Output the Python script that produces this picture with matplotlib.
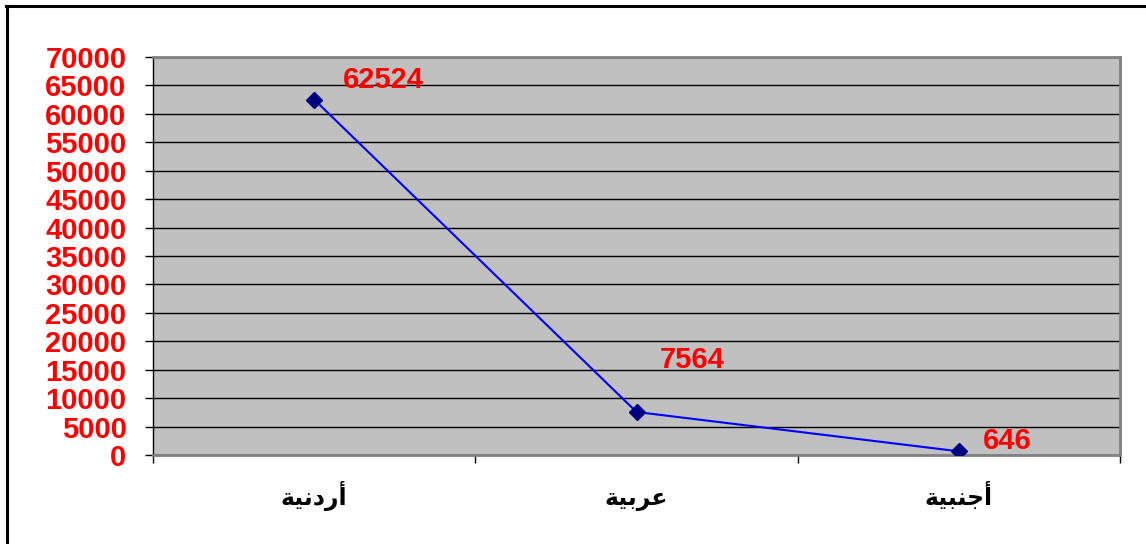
import matplotlib
matplotlib.use("Agg")
import matplotlib.pyplot as plt
from matplotlib.lines import Line2D

# data
categories = ["أردنية", "عربية", "أجنبية"]
values = [62524, 7564, 646]
y_ticks = list(range(0, 70001, 5000))

# label offsets (points) for the value labels
label_offsets = [(20.9, 8.6), (16.6, 31.7), (17.3, 1.4)]

# matplotlib has no Arabic shaping, so map letters to presentation forms
# (isolated, final, initial, medial)
FORMS = {
    "أ": "\ufe83\ufe84\ufe83\ufe84",
    "ر": "\ufead\ufeae\ufead\ufeae",
    "د": "\ufea9\ufeaa\ufea9\ufeaa",
    "ة": "\ufe93\ufe94\ufe93\ufe94",
    "ن": "\ufee5\ufee6\ufee7\ufee8",
    "ي": "\ufef1\ufef2\ufef3\ufef4",
    "ع": "\ufec9\ufeca\ufecb\ufecc",
    "ب": "\ufe8f\ufe90\ufe91\ufe92",
    "ج": "\ufe9d\ufe9e\ufe9f\ufea0",
}
RIGHT_ONLY = set("أردة")


def shape(word):
    out = []
    for i, ch in enumerate(word):
        joins_prev = i > 0 and word[i - 1] not in RIGHT_ONLY
        joins_next = i < len(word) - 1 and ch not in RIGHT_ONLY
        iso, fin, ini, med = FORMS[ch]
        if joins_prev and joins_next:
            out.append(med)
        elif joins_prev:
            out.append(fin)
        elif joins_next:
            out.append(ini)
        else:
            out.append(iso)
    return "".join(reversed(out))


fig = plt.figure(figsize=(11.46, 5.44), dpi=100)
ax = fig.add_axes([153 / 1146, 1 - 455 / 544, (1120 - 153) / 1146, (455 - 57) / 544])
ax.set_facecolor("#c0c0c0")

x = list(range(len(categories)))
ax.plot(x, values, color="#0000ff", linewidth=1.5, marker="D",
        markersize=8, markerfacecolor="#000080", markeredgecolor="#000080",
        zorder=3)

for xi, v, off in zip(x, values, label_offsets):
    ax.annotate(str(v), (xi, v), xytext=off, textcoords="offset points",
                ha="left", va="baseline", color="red", fontsize=21,
                fontweight="bold", family="Liberation Sans")

ax.set_xlim(-0.5, len(categories) - 0.5)
ax.set_ylim(0, 70000)
ax.set_yticks(y_ticks)
ax.set_yticklabels([str(t) for t in y_ticks], color="red", fontsize=21,
                   fontweight="bold", family="Liberation Sans")
ax.yaxis.grid(True, color="black", linewidth=1)
ax.set_axisbelow(True)
ax.tick_params(axis="y", length=6, width=1, pad=13, color="black")

ax.set_xticks(x)
ax.set_xticklabels([shape(c) for c in categories], fontsize=17,
                   fontweight="bold", family=["DejaVu Sans"])
for lbl in ax.get_xticklabels():
    lbl.set_verticalalignment("baseline")
ax.set_xticks([i - 0.5 for i in range(len(categories) + 1)], minor=True)
ax.tick_params(axis="x", which="major", length=0, pad=36)
ax.tick_params(axis="x", which="minor", length=6, width=1, color="black")

for side in ["top", "right", "bottom"]:
    ax.spines[side].set_color("#808080")
    ax.spines[side].set_linewidth(2)
ax.spines["left"].set_color("black")
ax.spines["left"].set_linewidth(1)

# chart frame
fig.add_artist(Line2D([6 / 1146, 1], [1 - 5.5 / 544, 1 - 5.5 / 544],
                      color="black", linewidth=2.2, transform=fig.transFigure))
fig.add_artist(Line2D([6.5 / 1146, 6.5 / 1146], [0, 1 - 5.5 / 544],
                      color="black", linewidth=2.2, transform=fig.transFigure))

fig.savefig("out.png", dpi=100)
